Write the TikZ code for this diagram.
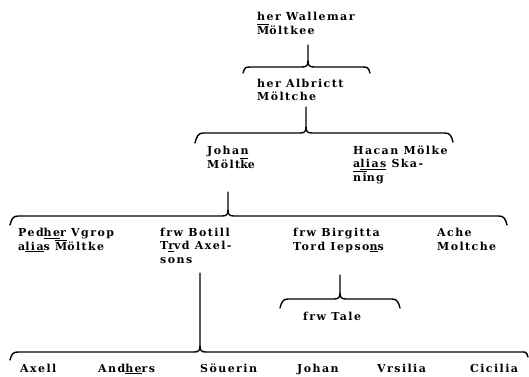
\documentclass[tikz,border=0pt]{standalone}
\usepackage{fontspec}
\setmainfont{DejaVu Serif}[LetterSpace=13]
\usetikzlibrary{calc}
\newsavebox\ovlbox
\newcommand\ovl[1]{\sbox\ovlbox{#1}\rlap{\rule[\dimexpr\ht\ovlbox+0.8pt\relax]{\wd\ovlbox}{0.8pt}}\usebox\ovlbox}
\newcommand\famBrace[4]{%
  \draw[brc] (#1) .. controls ($(#1)+(1.5,-6)$) and ($(#1|-#3)+(3,0)$) .. ($(#1|-#3)+(8,0)$)
     -- ($(#3)+(-6,0)$) .. controls ($(#3)+(-1.5,0)$) and ($(#3)+(0,-1.5)$) .. ($(#3)+(0,-6)$) -- (#4);
  \draw[brc] ($(#3)+(0,-6)$) .. controls ($(#3)+(0,-1.5)$) and ($(#3)+(1.5,0)$) .. ($(#3)+(6,0)$)
     -- ($(#2|-#3)+(-8,0)$) .. controls ($(#2|-#3)+(-3,0)$) and ($(#2)+(-1.5,-6)$) .. (#2);}
\begin{document}
\begin{tikzpicture}[x=1pt,y=-1pt,
  lbl/.style={font=\fontsize{11}{13.5}\selectfont\bfseries, align=left, inner sep=0pt, anchor=base west},
  brc/.style={line width=1.4pt, line cap=round, line join=round}]
\useasboundingbox (0,0) rectangle (529,376);
% people (anchor = baseline of the last line)
\node[lbl] (wal) at (257,34) {her Wallemar\\\ovl{M}öltkee};
\node[lbl] (alb) at (257,100.5) {her Albrictt\\Möltche};
\node[lbl] (joh) at (207,168) {Johan\\Mölt\ovl{k}e};
\node[lbl] (hac) at (353,181) {Hacan Mölke\\a\underline{lias} Ska-\\\ovl{ni}ng};
\node[lbl] (ped) at (18,250) {Ped\underline{he}r Vgrop\\a\underline{lia}s \ovl{M}öltke};
\node[lbl] (bot) at (160,263) {frw Botill\\T\underline{r}vd Axel-\\sons};
\node[lbl] (bir) at (293,250) {frw Birgitta\\Tord Iepso\underline{n}s};
\node[lbl] (ach) at (437,250) {Ache\\Moltche};
\node[lbl] (tal) at (303,320) {frw Tale};
\node[lbl] (axe) at (20,372) {Axell};
\node[lbl] (and) at (98,372) {And\underline{he}rs};
\node[lbl] (sou) at (200,372) {Söuerin};
\node[lbl] (jo2) at (297,372) {Johan};
\node[lbl] (vrs) at (377,372) {Vrsilia};
\node[lbl] (cic) at (470,372) {Cicilia};
% brace points
\coordinate (L1) at (243,73); \coordinate (R1) at (370,73); \coordinate (M1) at (308,67); \coordinate (S1) at (308,45);
\coordinate (L2) at (195,143); \coordinate (R2) at (453,142); \coordinate (M2) at (306,133); \coordinate (S2) at (306,107);
\coordinate (L3) at (10,225); \coordinate (R3) at (507,225); \coordinate (M3) at (228,216); \coordinate (S3) at (228,192);
\coordinate (L4) at (280,308); \coordinate (R4) at (400,308); \coordinate (M4) at (340,299); \coordinate (S4) at (340,275);
\coordinate (L5) at (10,360); \coordinate (R5) at (528,357); \coordinate (M5) at (200,352); \coordinate (S5) at (200,273);
\famBrace{L1}{R1}{M1}{S1}
\famBrace{L2}{R2}{M2}{S2}
\famBrace{L3}{R3}{M3}{S3}
\famBrace{L4}{R4}{M4}{S4}
\famBrace{L5}{R5}{M5}{S5}
\end{tikzpicture}
\end{document}
